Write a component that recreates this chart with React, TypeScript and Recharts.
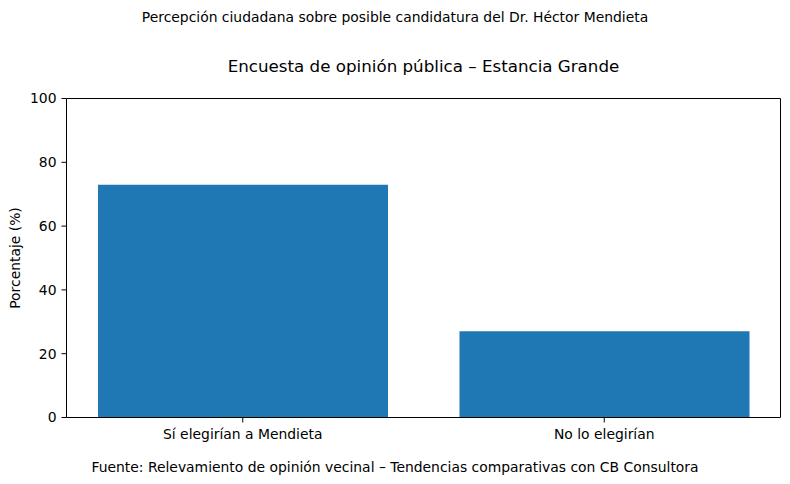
import { BarChart, Bar, XAxis, YAxis } from 'recharts';

const categories = ['Sí elegirían a Mendieta', 'No lo elegirían'];
const percentages = [73, 27];
const yTicks = [0, 20, 40, 60, 80, 100];

const data = categories.map((name, i) => ({ name, value: percentages[i] }));

const FONT = '"DejaVu Sans", sans-serif';

const App = () => {
  return (
    <div style={{ position: 'absolute', left: 0, top: 0, width: 790, height: 484, background: '#fff', fontFamily: FONT, lineHeight: 'normal' }}>
      <div style={{ position: 'absolute', left: 0, width: 790, top: 9, textAlign: 'center', fontSize: 13.9, color: '#000' }}>
        Percepción ciudadana sobre posible candidatura del Dr. Héctor Mendieta
      </div>
      <div style={{ position: 'absolute', left: 67, width: 713, top: 55.5, textAlign: 'center', fontSize: 16.7, color: '#000' }}>
        Encuesta de opinión pública – Estancia Grande
      </div>
      <BarChart
        width={790}
        height={484}
        data={data}
        margin={{ top: 97.5, right: 8.5, bottom: 36.5, left: 0 }}
        barCategoryGap={36}
      >
        <XAxis
          dataKey="name"
          height={30}
          padding={{ left: -4.5, right: -4.5 }}
          stroke="#000"
          tickSize={5}
          tickMargin={7}
          tick={{ fill: '#000', fontSize: 13.9, fontFamily: FONT }}
        />
        <XAxis xAxisId="top" orientation="top" dataKey="name" height={1} tick={false} tickLine={false} stroke="#000" />
        <YAxis
          domain={[0, 100]}
          ticks={yTicks}
          width={66.5}
          stroke="#000"
          tickSize={5}
          tickMargin={5}
          tick={{ fill: '#000', fontSize: 13.9, fontFamily: FONT }}
          label={{ value: 'Porcentaje (%)', angle: -90, position: 'insideLeft', offset: 15, style: { textAnchor: 'middle', fill: '#000', fontSize: 13.9, fontFamily: FONT } }}
        />
        <YAxis yAxisId="right" orientation="right" width={1} tick={false} tickLine={false} stroke="#000" />
        <Bar dataKey="value" fill="#1f77b4" isAnimationActive={false} />
      </BarChart>
      <div style={{ position: 'absolute', left: 0, width: 790, top: 459, textAlign: 'center', fontSize: 13.9, color: '#000' }}>
        Fuente: Relevamiento de opinión vecinal – Tendencias comparativas con CB Consultora
      </div>
    </div>
  );
};

export default App;
